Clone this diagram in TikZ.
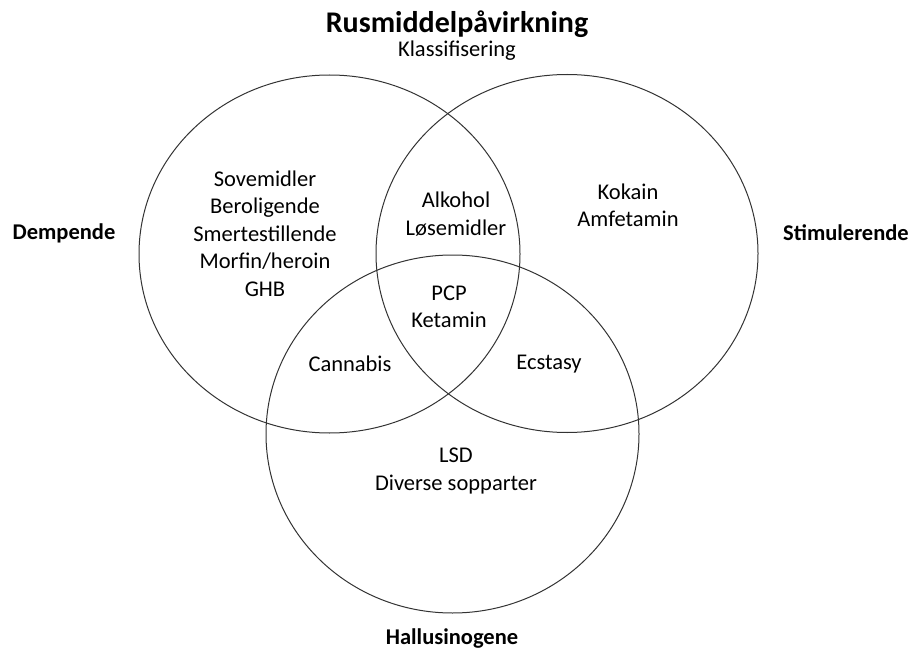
\documentclass[tikz,border=0pt]{standalone}
\usepackage{fontspec}
\setmainfont{Carlito}
\usetikzlibrary{shapes.geometric}

\begin{document}
\begin{tikzpicture}[x=1pt, y=-1pt,
  mengde/.style={draw=black!80, line width=1pt, ellipse, inner sep=0pt, minimum height=358pt},
  tekst/.style={align=center, inner sep=0pt, font=\fontsize{22.5}{27.5}\selectfont},
  kategori/.style={inner sep=0pt, font=\fontsize{22.5}{27}\selectfont\bfseries}]
\useasboundingbox (0,0) rectangle (912,652);

% tittel
\node[inner sep=0pt, font=\fontsize{30}{36}\selectfont\bfseries] (tittel) at (457,24) {Rusmiddelpåvirkning};
\node[tekst] (undertittel) at (457,51) {Klassifisering};

% de tre mengdene
\node[mengde, minimum width=381pt] (dempende) at (329.5,254) {};
\node[mengde, minimum width=382pt] (stimulerende) at (567,253.5) {};
\node[mengde, minimum width=373pt] (hallusinogene) at (452.5,434) {};

% kategorinavn
\node[kategori] (lblDem) at (64,233) {Dempende};
\node[kategori] (lblStim) at (846,233) {Stimulerende};
\node[kategori] (lblHall) at (452,639) {Hallusinogene};

% innhold
\node[tekst] (dem) at (265,233.5) {Sovemidler\\ Beroligende\\ Smertestillende\\ Morfin/heroin\\ GHB};
\node[tekst] (demStim) at (456,214) {Alkohol\\ Løsemidler};
\node[tekst] (stim) at (628,205.5) {Kokain\\ Amfetamin};
\node[tekst] (alle) at (449,307) {PCP\\ Ketamin};
\node[tekst] (demHall) at (350,364) {Cannabis};
\node[tekst] (stimHall) at (549,364) {Ecstasy};
\node[tekst] (hall) at (456,471) {LSD\\ Diverse sopparter};
\end{tikzpicture}
\end{document}
